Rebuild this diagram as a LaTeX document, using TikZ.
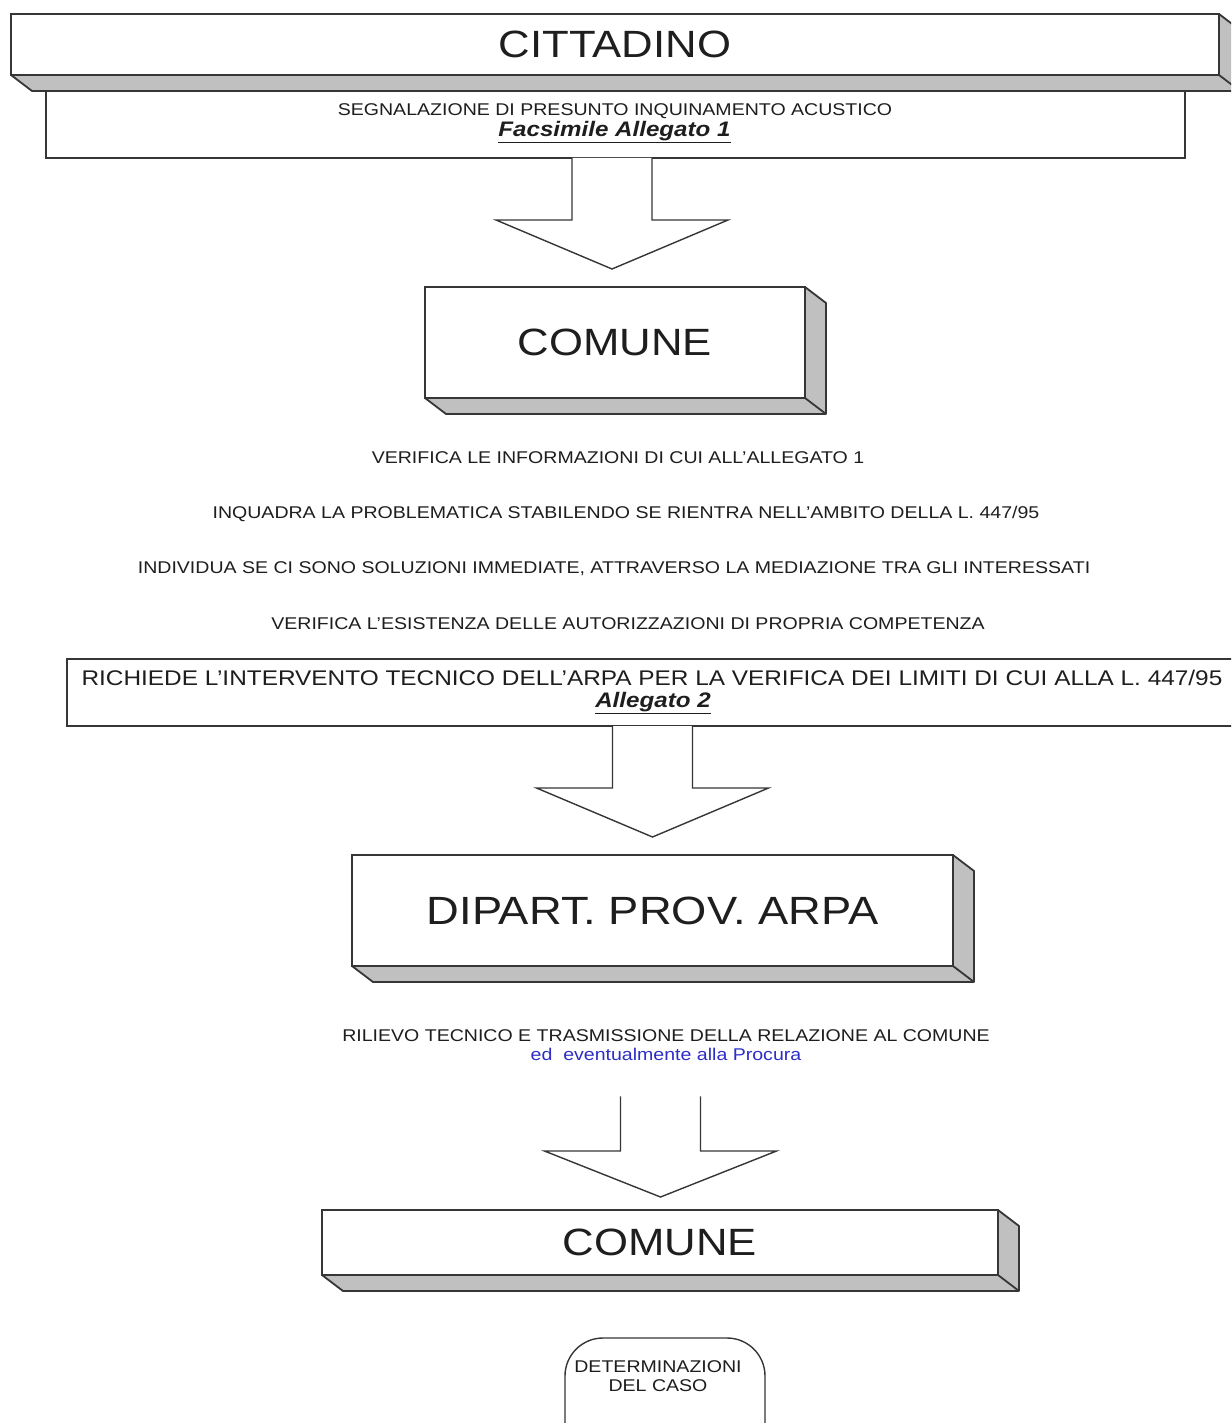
\documentclass[tikz,border=0pt]{standalone}
\usepackage{fontspec}
\setmainfont{Liberation Sans}[FakeStretch=1.15]
\usetikzlibrary{calc}
\definecolor{edge}{HTML}{363636}
\definecolor{sidegray}{HTML}{C0C0C0}
\definecolor{txt}{HTML}{1E1E1E}
\definecolor{bluetxt}{RGB}{45,45,200}
\tikzset{
  box3d/.style={draw=edge, line width=1.8pt, fill=white, inner sep=0pt, outer sep=0pt,
    font=\fontsize{38}{40}\selectfont, text=txt},
  flatbox/.style={draw=edge, line width=1.8pt, fill=white, inner sep=0pt, outer sep=0pt},
  sideface/.style={draw=edge, line width=1.8pt, fill=sidegray, line join=round},
  smalltxt/.style={font=\fontsize{17}{19}\selectfont, text=txt, inner sep=0pt},
  midtxt/.style={font=\fontsize{21.2}{23}\selectfont, text=txt, inner sep=0pt},
  reftxt/.style={font=\fontsize{21}{23}\selectfont\bfseries\itshape, text=txt, inner sep=0pt},
  bluenote/.style={font=\fontsize{17}{19}\selectfont, text=bluetxt, inner sep=0pt},
  barrow/.style={draw=edge, line width=1.4pt, fill=white, line join=miter},
  roundbox/.style={draw=edge, line width=1.4pt, fill=white, rounded corners=38pt, inner sep=0pt, outer sep=0pt}
}
% depth faces of a 3D box: bottom and right side
\newcommand\depthfaces[1]{%
  \path[sideface] (#1.south west) -- ($(#1.south west)+(21,16)$) -- ($(#1.south east)+(21,16)$)
    -- ($(#1.north east)+(21,16)$) -- (#1.north east) -- (#1.south east) -- cycle;
  \draw[edge, line width=1.8pt] (#1.south east) -- ($(#1.south east)+(21,16)$);}
% block arrow: source node, target node, x-coordinate, top gap, tip gap, head length
\newcommand\flowarrow[6]{%
  \draw[barrow] let \p1=($(#1.south -| #3)+(0,#4)$), \p2=($(#2.north -| #3)-(0,#5)$) in
    (\x1-40pt,\y1) -- (\x1-40pt,\y2+#6pt) -- (\x1-116pt,\y2+#6pt) -- (\x1,\y2)
    -- (\x1+116pt,\y2+#6pt) -- (\x1+40pt,\y2+#6pt) -- (\x1+40pt,\y1);}
\begin{document}
\begin{tikzpicture}[x=1pt,y=-1pt]
\useasboundingbox (0,0) rectangle (1231,1423);
\clip (0,0) rectangle (1231,1423);
\fill[white] (0,0) rectangle (1231,1423);

% CITTADINO
\node[box3d, minimum width=1208pt, minimum height=61pt] (citt) at (615,44.5) {CITTADINO};
\depthfaces{citt}
\node[flatbox, minimum width=1139pt, minimum height=67pt] (segn) at (615.5,124.5) {};
\node[smalltxt] (segnt) at (615,111) {SEGNALAZIONE DI PRESUNTO INQUINAMENTO ACUSTICO};
\node[reftxt] (fac) at (614.5,132) {\underline{Facsimile Allegato 1}};

% COMUNE
\node[box3d, minimum width=380pt, minimum height=111pt] (com1) at (615,342.5) {COMUNE};
\depthfaces{com1}

\coordinate (ax1) at (612,0);
\flowarrow{segn}{com1}{ax1}{0}{18}{49}

\node[smalltxt] (l1) at (618,458) {VERIFICA LE INFORMAZIONI DI CUI ALL’ALLEGATO 1};
\node[smalltxt] (l2) at (626,514) {INQUADRA LA PROBLEMATICA STABILENDO SE RIENTRA NELL’AMBITO DELLA L. 447/95};
\node[smalltxt] (l3) at (614,569) {INDIVIDUA SE CI SONO SOLUZIONI IMMEDIATE, ATTRAVERSO LA MEDIAZIONE TRA GLI INTERESSATI};
\node[smalltxt] (l4) at (628,624) {VERIFICA L’ESISTENZA DELLE AUTORIZZAZIONI DI PROPRIA COMPETENZA};

% request box
\node[flatbox, minimum width=1180pt, minimum height=67pt] (req) at (657,692.5) {};
\node[midtxt] (reqt) at (652,678) {RICHIEDE L’INTERVENTO TECNICO DELL’ARPA PER LA VERIFICA DEI LIMITI DI CUI ALLA L. 447/95};
\node[reftxt] (all2) at (653,703) {\underline{Allegato 2}};

% DIPART
\node[box3d, minimum width=601pt, minimum height=111pt, font=\fontsize{39.4}{41}\selectfont] (arpa) at (652.5,910.5) {DIPART. PROV. ARPA};
\depthfaces{arpa}

\coordinate (ax2) at (652.5,0);
\flowarrow{req}{arpa}{ax2}{0}{18}{49}

\node[smalltxt] (ril) at (666,1036) {RILIEVO TECNICO E TRASMISSIONE DELLA RELAZIONE AL COMUNE};
\node[bluenote] (proc) at (666,1054) {ed\ \ eventualmente alla Procura};

% COMUNE 2
\node[box3d, minimum width=676pt, minimum height=65pt] (com2) at (660,1242.5) {COMUNE};
\depthfaces{com2}

\coordinate (ax3) at (660.5,0);
\flowarrow{proc}{com2}{ax3}{36}{13}{46}

% final rounded box
\node[roundbox, minimum width=200pt, minimum height=122pt] (det) at (665,1399) {};
\node[smalltxt, align=center, font=\fontsize{17}{18.5}\selectfont] (dett) at (658,1376) {DETERMINAZIONI\\DEL CASO};
\end{tikzpicture}
\end{document}
